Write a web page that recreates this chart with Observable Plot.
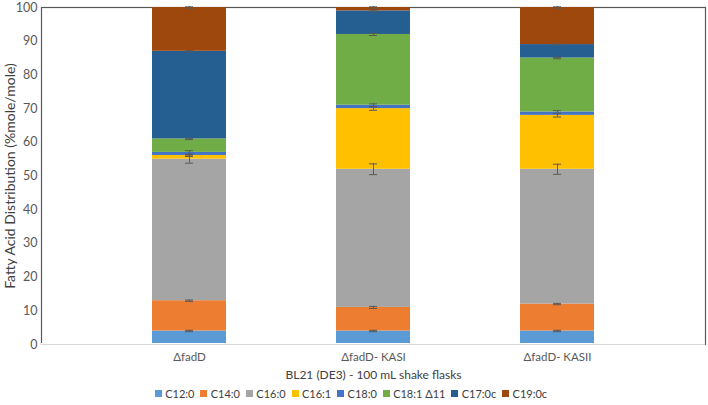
<!DOCTYPE html>
<html>
<head>
<meta charset="utf-8">
<script src="https://cdn.jsdelivr.net/npm/d3@7"></script>
<script src="https://cdn.jsdelivr.net/npm/@observablehq/plot@0.6"></script>
<style>
  body { margin: 0; background: #fff; font-family: Lato, sans-serif; }
  #legend > div { justify-content: center; min-height: 18px; margin: 0; }
  #legend .lg-swatch { margin-right: 0.55em !important; }
  #legend .lg-swatch > svg { margin-right: 0.3em !important; }
</style>
</head>
<body>
<div id="chart"></div>
<div id="legend"></div>
<script>
const strains = ["ΔfadD", "ΔfadD- KASI", "ΔfadD- KASII"];
const acids = ["C12:0", "C14:0", "C16:0", "C16:1", "C18:0", "C18:1 Δ11", "C17:0c", "C19:0c"];
const colors = ["#5B9BD5", "#ED7D31", "#A5A5A5", "#FFC000", "#4472C4", "#70AD47", "#255E91", "#9E480E"];
// values per acid, for the three strains
const c12_0 = [4, 4, 4];
const c14_0 = [9, 7, 8];
const c16_0 = [42, 41, 40];
const c16_1 = [1.1, 18, 16];
const c18_0 = [0.9, 1, 1];
const c18_1 = [4, 21, 16];
const c17_0c = [26, 7, 4];
const c19_0c = [13, 1, 11];
// standard deviations
const e12_0 = [0.2, 0.2, 0.2];
const e14_0 = [0.2, 0.3, 0.2];
const e16_0 = [1.2, 1.6, 1.5];
const e16_1 = [0.3, 0.5, 0.5];
const e18_0 = [0.5, 0.4, 0.4];
const e18_1 = [0.2, 0.3, 0.2];
const e17_0c = [0.2, 0.2, 0.2];
const e19_0c = [0.2, 0.2, 0.2];
const yTicks = [0, 10, 20, 30, 40, 50, 60, 70, 80, 90, 100];
const xTitle = "BL21 (DE3) - 100 mL shake flasks";
const yTitle = "Fatty Acid Distribution (%mole/mole)";

const series = [c12_0, c14_0, c16_0, c16_1, c18_0, c18_1, c17_0c, c19_0c];
const errs = [e12_0, e14_0, e16_0, e16_1, e18_0, e18_1, e17_0c, e19_0c];

const rows = [];
strains.forEach((s, j) => {
  let cum = 0;
  acids.forEach((a, i) => {
    const v = series[i][j];
    rows.push({strain: s, acid: a, value: v, top: cum + v, err: errs[i][j]});
    cum += v;
  });
});

const chart = Plot.plot({
  width: 708,
  height: 384,
  marginLeft: 41,
  marginRight: 3,
  marginTop: 7,
  marginBottom: 40,
  style: {fontFamily: "Lato, sans-serif", fontSize: "11px", color: "#595959"},
  x: {domain: strains, padding: 0.6, label: null},
  y: {domain: [0, 100], label: null},
  color: {domain: acids, range: colors},
  marks: [
    Plot.frame({stroke: "#595959", strokeWidth: 1.2}),
    Plot.barY(rows, {x: "strain", y: "value", fill: "acid", order: acids}),
    Plot.ruleX(rows, {x: "strain", y1: d => d.top - d.err, y2: d => d.top + d.err, stroke: "#595959", strokeWidth: 1}),
    Plot.tickY(rows, {x: "strain", y: d => d.top - d.err, stroke: "#595959", insetLeft: 41, insetRight: 41}),
    Plot.tickY(rows, {x: "strain", y: d => d.top + d.err, stroke: "#595959", insetLeft: 41, insetRight: 41}),
    Plot.ruleY([0], {stroke: "white", strokeWidth: 3}),
    Plot.ruleY([0], {stroke: "#d9d9d9", strokeWidth: 1}),
    Plot.axisX({tickSize: 0, tickPadding: 8, fontSize: 11.5, label: null}),
    Plot.axisY({ticks: yTicks, tickSize: 0, tickPadding: 4, fontSize: 12.5, label: null}),
    Plot.text([xTitle], {frameAnchor: "bottom", dy: 34, text: d => d, fill: "#404040", fontSize: 12}),
    Plot.text([yTitle], {frameAnchor: "left", textAnchor: "middle", dx: -31, rotate: -90, text: d => d, fill: "#404040", fontSize: 14})
  ]
});
document.getElementById("chart").appendChild(chart);

const legend = Plot.legend({
  color: {domain: acids, range: colors},
  legend: "swatches",
  swatchSize: 7,
  className: "lg",
  style: {fontFamily: "Lato, sans-serif", fontSize: "11px", color: "#404040"}
});
document.getElementById("legend").appendChild(legend);
</script>
</body>
</html>
